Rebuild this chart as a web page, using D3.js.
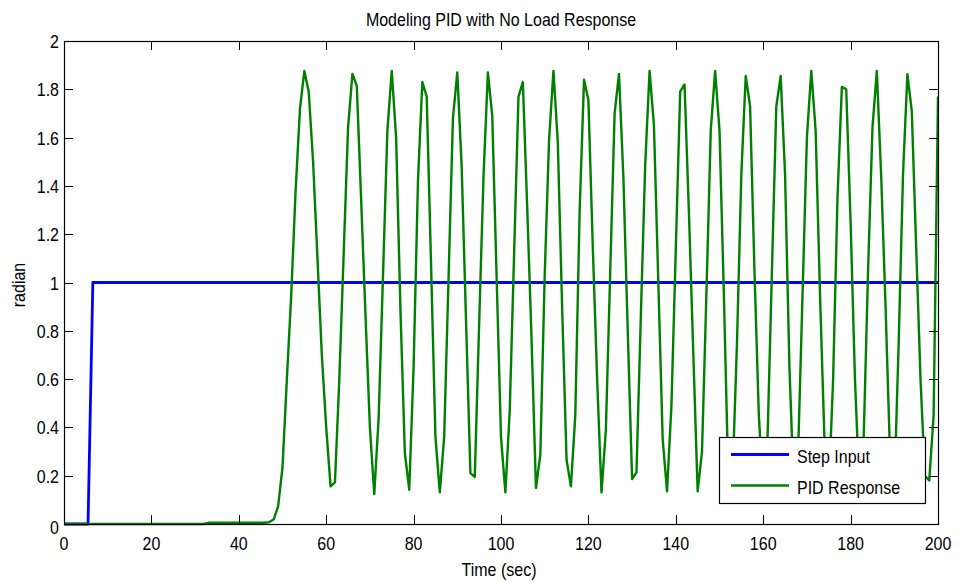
<!DOCTYPE html>
<html>
<head>
<meta charset="utf-8">
<script src="https://cdn.jsdelivr.net/npm/d3@7"></script>
<style>
  body { margin: 0; background: #fff; }
  text { font-family: Arial, "Liberation Sans", sans-serif; font-size: 16px; fill: #000; }
</style>
</head>
<body>
<div id="chart"></div>
<script>
// sample times (1 s step) for the PID response
const pidTime = d3.range(0, 201)
const pidValue = [
  0,0,0,0,0,0,0,0,0,0, 0,0,0,0,0,0,0,0,0,0, 0,0,0,0,0,0,0,0,0,0,
  0,0,0,0.005,0.005,0.005,0.005,0.005,0.005,0.005, 0.005,0.005,0.005,0.005,0.005,0.005,0.005,0.008,0.02,0.073,
  0.235,0.6,0.95,1.38,1.72,1.876,1.79,1.5,1.1,0.7,          // 50-59
  0.4,0.156,0.172,0.6,1.12,1.64,1.864,1.814,1.34,0.86,      // 60-69
  0.4,0.124,0.44,1.03,1.63,1.876,1.6,0.88,0.294,0.142,      // 70-79
  0.65,1.42,1.83,1.77,1.07,0.36,0.131,0.363,1.02,1.68,      // 80-89
  1.87,1.48,0.84,0.211,0.195,0.83,1.44,1.87,1.69,1.02,      // 90-99
  0.36,0.131,0.47,1.12,1.77,1.83,1.31,0.76,0.149,0.287,     // 100-109
  1.03,1.59,1.876,1.58,0.89,0.266,0.156,0.45,1.3,1.84,      // 110-119
  1.756,1.15,0.6,0.131,0.39,1.05,1.7,1.864,1.44,0.8,        // 120-129
  0.186,0.214,0.86,1.49,1.876,1.65,1.0,0.35,0.135,0.49,     // 130-139
  1.14,1.79,1.82,1.29,0.71,0.135,0.3,0.95,1.63,1.876,       // 140-149
  1.63,0.95,0.2,0.2,0.75,1.45,1.855,1.73,1.05,0.45,         // 150-159
  0.14,0.36,1.05,1.73,1.855,1.45,0.65,0.15,0.3,0.95,        // 160-169
  1.6,1.876,1.63,0.95,0.36,0.14,0.6,1.35,1.81,1.8,          // 170-179
  1.25,0.6,0.15,0.36,1.05,1.64,1.876,1.44,0.9,0.3,          // 180-189
  0.14,0.75,1.45,1.863,1.71,1.15,0.6,0.2,0.18,0.45,         // 190-199
  1.77                                                      // 200
]

const stepTime = [0, 5.5, 6.6, 200]
const stepValue = [0, 0, 1, 1]

const xTicks = [0, 20, 40, 60, 80, 100, 120, 140, 160, 180, 200]
const yTicks = [0, 0.2, 0.4, 0.6, 0.8, 1, 1.2, 1.4, 1.6, 1.8, 2]

const titleText = "Modeling PID with No Load Response"
const xLabel = "Time (sec)"
const yLabel = "radian"
const seriesNames = ["Step Input", "PID Response"]
const seriesColors = ["#0000ff", "#008000"]

const width = 960
const height = 582
const plotL = 64, plotR = 938, plotT = 41, plotB = 524

const x = d3.scaleLinear().domain([0, 200]).range([plotL, plotR])
const y = d3.scaleLinear().domain([0, 2]).range([plotB, plotT])

const svg = d3.select("#chart").append("svg")
  .attr("width", width)
  .attr("height", height)

// text is drawn a bit taller than wide, like the original figure
function label(px, py, s, anchor, rot) {
  return svg.append("text")
    .attr("transform", `translate(${px},${py})` + (rot ? ` rotate(${rot})` : "") + " scale(1,1.15)")
    .attr("text-anchor", anchor)
    .text(s)
}

svg.append("rect")
  .attr("x", 0).attr("y", 0).attr("width", width).attr("height", height)
  .attr("fill", "#fff")

svg.append("defs").append("clipPath").attr("id", "plotclip")
  .append("rect")
  .attr("x", plotL).attr("y", plotT - 2)
  .attr("width", plotR - plotL).attr("height", plotB - plotT + 4)

// lines
const stepLine = d3.line().x((d, i) => x(stepTime[i])).y(d => y(d))
const pidLine = d3.line().x((d, i) => x(pidTime[i])).y(d => y(d))

const plot = svg.append("g").attr("clip-path", "url(#plotclip)")

plot.append("path")
  .attr("d", stepLine(stepValue))
  .attr("fill", "none")
  .attr("stroke", seriesColors[0])
  .attr("stroke-width", 2.8)
  .attr("stroke-linejoin", "round")

plot.append("path")
  .attr("d", pidLine(pidValue))
  .attr("fill", "none")
  .attr("stroke", seriesColors[1])
  .attr("stroke-width", 2.4)
  .attr("stroke-linejoin", "round")

// ticks (inward, on all four sides)
const tickLen = 9
const ticks = svg.append("g").attr("stroke", "#000").attr("stroke-width", 1)
xTicks.forEach(t => {
  const px = Math.round(x(t)) + 0.5
  ticks.append("line").attr("x1", px).attr("x2", px).attr("y1", plotB).attr("y2", plotB - tickLen)
  ticks.append("line").attr("x1", px).attr("x2", px).attr("y1", plotT).attr("y2", plotT + tickLen)
  label(x(t), 550, String(t), "middle")
})
yTicks.forEach(t => {
  const py = Math.round(y(t)) + 0.5
  ticks.append("line").attr("x1", plotL).attr("x2", plotL + tickLen).attr("y1", py).attr("y2", py)
  ticks.append("line").attr("x1", plotR).attr("x2", plotR - tickLen).attr("y1", py).attr("y2", py)
  label(plotL - 5, y(t) + 7 + (t === 0 ? 3 : 0), String(t), "end")
})

// frame
svg.append("rect")
  .attr("x", plotL + 0.5).attr("y", plotT + 0.5)
  .attr("width", plotR - plotL).attr("height", plotB - plotT)
  .attr("fill", "none").attr("stroke", "#000").attr("stroke-width", 1.2)

// titles
label((plotL + plotR) / 2, 26, titleText, "middle")
label((plotL + plotR) / 2 - 2, 576, xLabel, "middle")
label(25, 285, yLabel, "middle", -90)

// legend
const lg = svg.append("g")
lg.append("rect")
  .attr("x", 719.5).attr("y", 437.5).attr("width", 206).attr("height", 66)
  .attr("fill", "#fff").attr("stroke", "#000").attr("stroke-width", 1.2)
seriesNames.forEach((name, i) => {
  const ly = 454.5 + i * 31
  lg.append("line")
    .attr("x1", 731).attr("x2", 789).attr("y1", ly).attr("y2", ly)
    .attr("stroke", seriesColors[i]).attr("stroke-width", i === 0 ? 2.8 : 2.4)
  label(797, ly + 8, name, "start")
})
</script>
</body>
</html>
